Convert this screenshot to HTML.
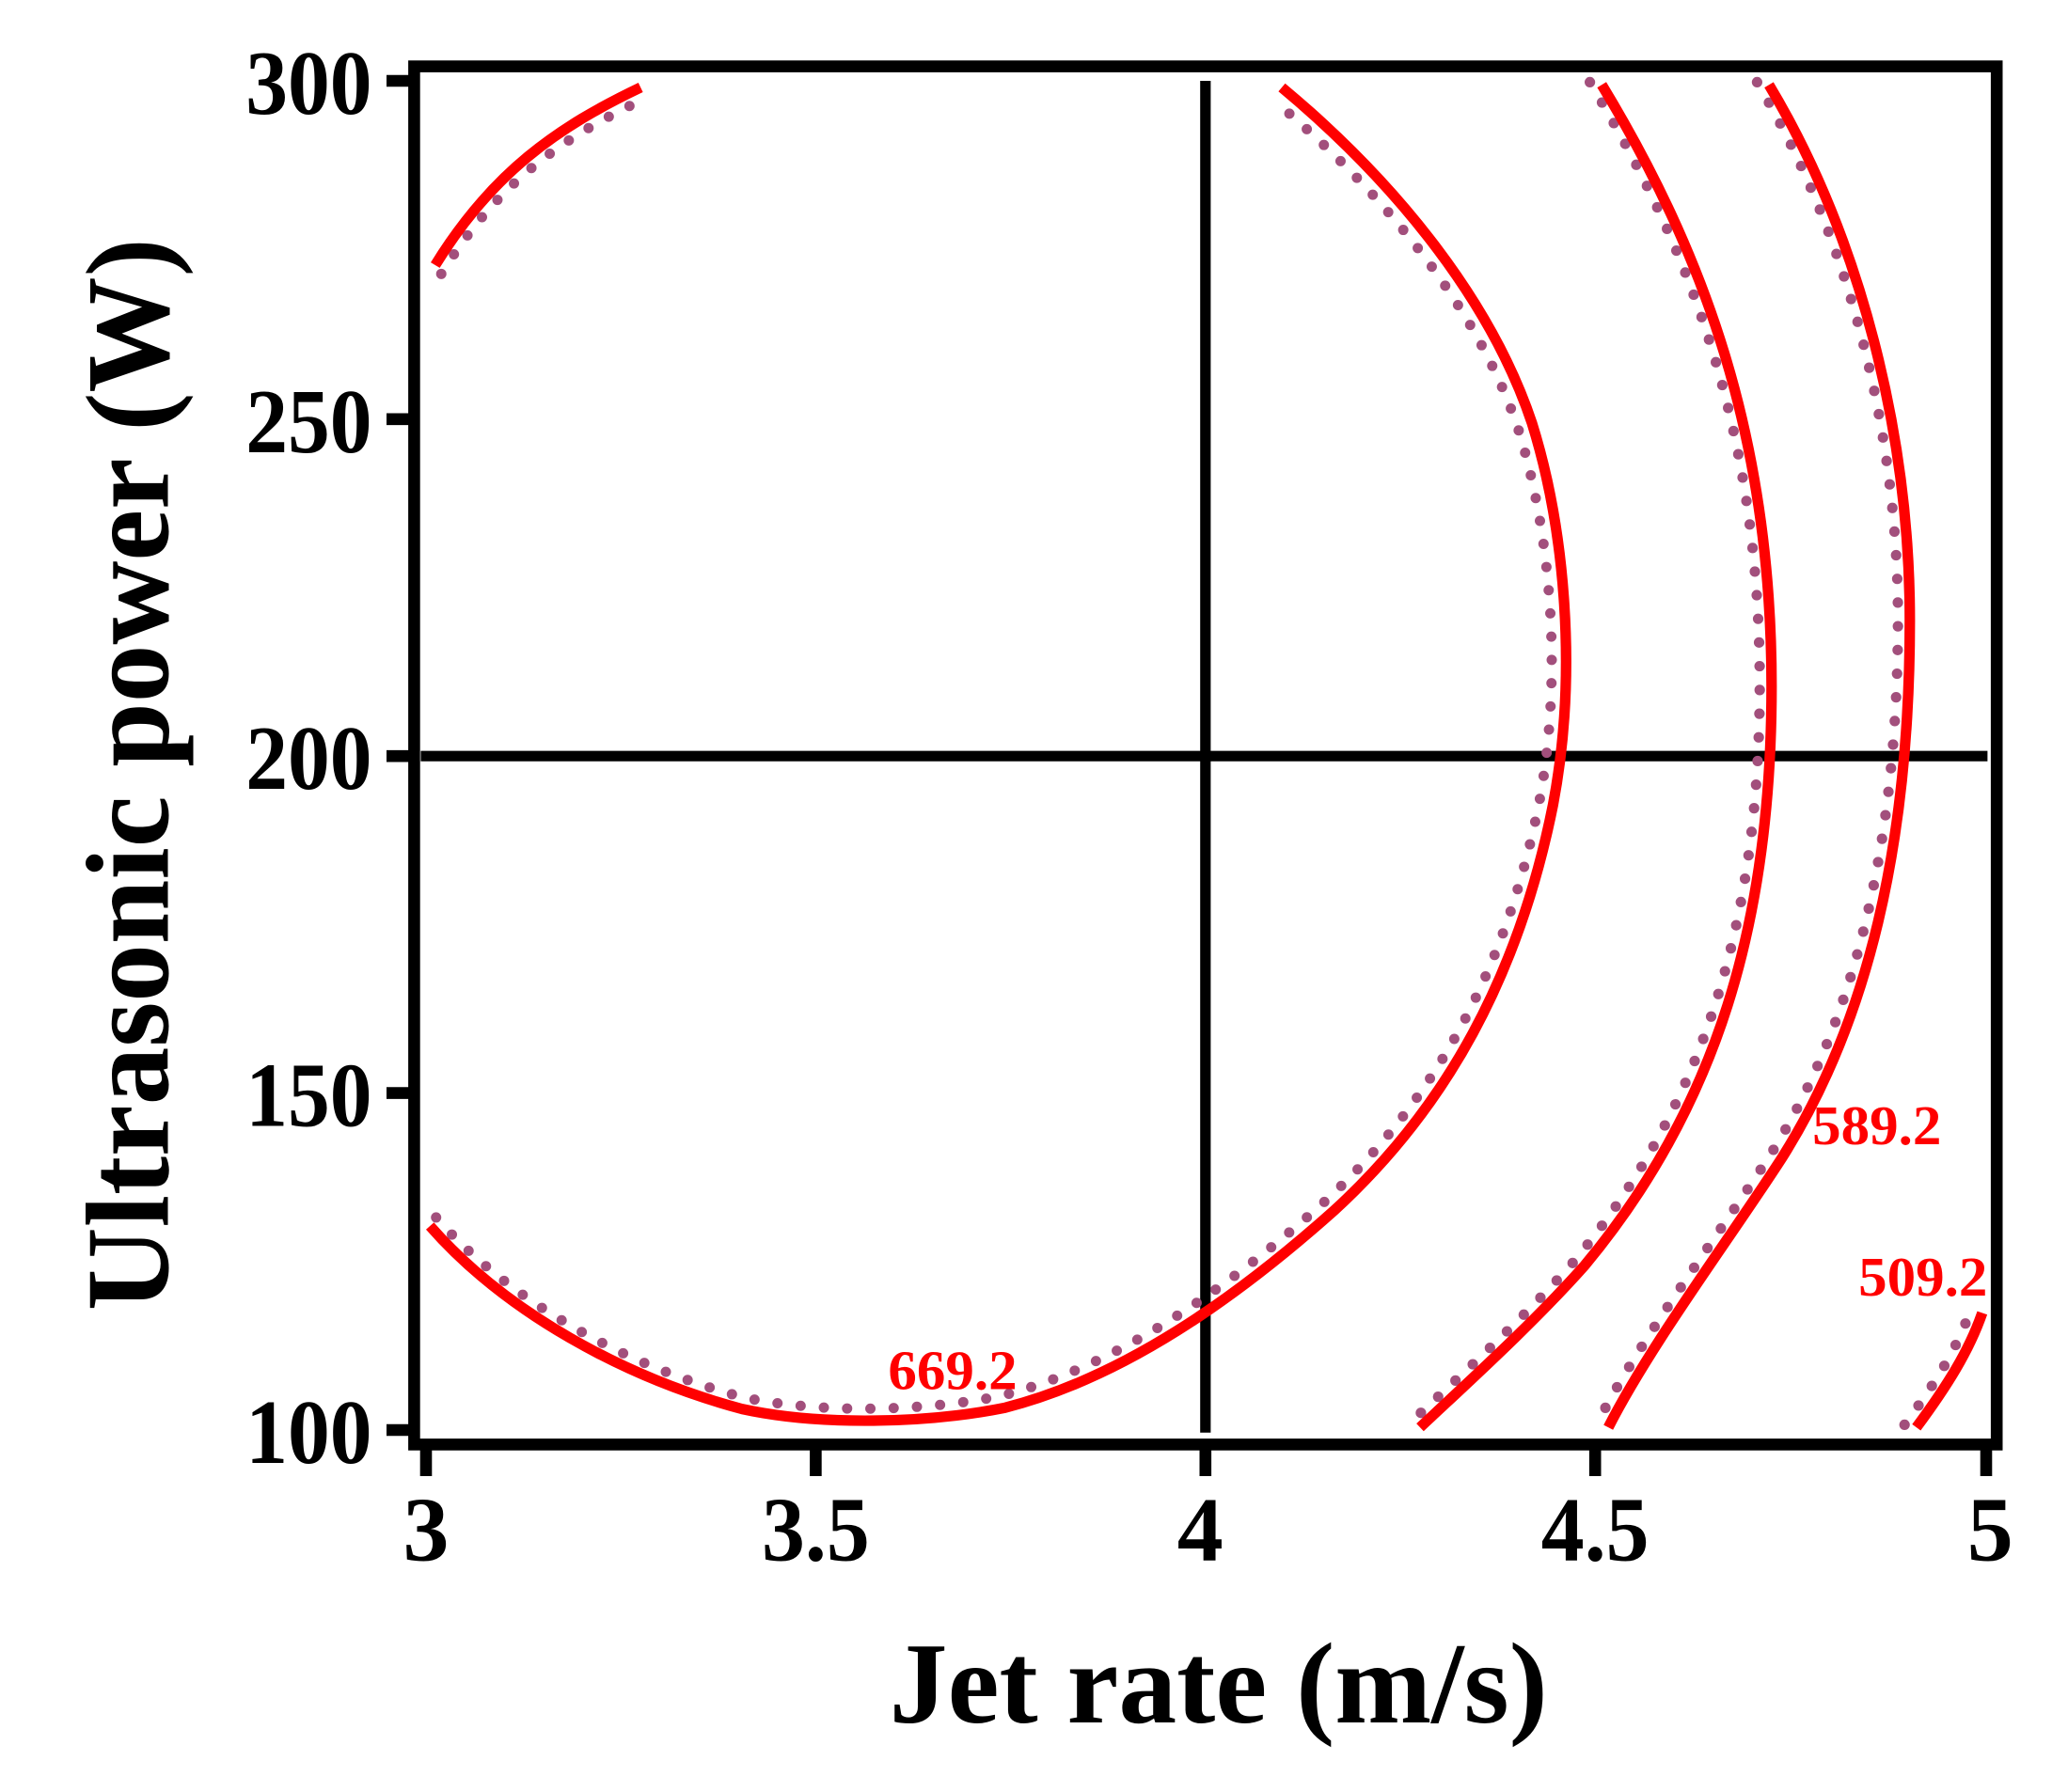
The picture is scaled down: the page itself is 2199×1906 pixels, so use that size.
<!DOCTYPE html>
<html><head><meta charset="utf-8"><style>
html,body{margin:0;padding:0;background:#fff;}
svg{display:block;}
</style></head><body>
<svg width="2199" height="1906" viewBox="0 0 2199 1906" xmlns="http://www.w3.org/2000/svg">
<rect width="2199" height="1906" fill="#fff"/>
<g transform="matrix(1.4 0 0 1.4 5 2)">
  <line x1="316" y1="573" x2="1506" y2="573" stroke="#000" stroke-width="8"/>
  <line x1="912" y1="60" x2="912" y2="1087" stroke="#000" stroke-width="8"/>

  <g fill="none" stroke="#a24f7c" stroke-width="8" stroke-linecap="round" stroke-dasharray="0 18">
    <g transform="translate(800 570) scale(0.982) translate(-800 -570) translate(-4 0)">
      <path d="M323,930 C380,995 470,1045 560,1069 C620,1082 700,1080 760,1068 C850,1045 935,985 1010,918 C1095,840 1150,740 1176,610 C1195,510 1185,400 1160,320 C1130,230 1060,140 970,65"/>
      <path d="M327,200 C370,130 420,95 483,65"/>
    </g>
    <g transform="translate(-9 -2)">
      <path d="M1213,63 C1290,190 1342,330 1342,520 C1342,700 1300,840 1200,960 C1160,1005 1110,1050 1075,1083"/>
      <path d="M1340,63 C1410,180 1447,330 1447,470 C1447,640 1415,775 1350,878 C1310,940 1250,1020 1218,1083"/>
      <path d="M1452,1083 C1475,1052 1492,1025 1502,996"/>
    </g>
  </g>

  <g fill="none" stroke="#ff0000" stroke-width="8" stroke-linecap="butt">
    <path d="M323,930 C380,995 470,1045 560,1069 C620,1082 700,1080 760,1068 C850,1045 935,985 1010,918 C1095,840 1150,740 1176,610 C1195,510 1185,400 1160,320 C1130,230 1060,140 970,65"/>
    <path d="M327,200 C370,130 420,95 483,65"/>
    <path d="M1213,63 C1290,190 1342,330 1342,520 C1342,700 1300,840 1200,960 C1160,1005 1110,1050 1075,1083"/>
    <path d="M1340,63 C1410,180 1447,330 1447,470 C1447,640 1415,775 1350,878 C1310,940 1250,1020 1218,1083"/>
    <path d="M1452,1083 C1475,1052 1492,1025 1502,996"/>
  </g>

  <g font-family="Liberation Serif, serif" font-weight="bold" font-size="42" fill="#ff0000" text-anchor="middle">
    <text x="720" y="1054" textLength="98" lengthAdjust="spacingAndGlyphs">669.2</text>
    <text x="1422" y="868" textLength="98" lengthAdjust="spacingAndGlyphs">589.2</text>
    <text x="1457" y="983" textLength="98" lengthAdjust="spacingAndGlyphs">509.2</text>
  </g>

  <rect x="311" y="49" width="1202" height="1047" fill="none" stroke="#000" stroke-width="9"/>
  <g stroke="#000" stroke-width="9">
    <line x1="290" y1="60" x2="311" y2="60"/>
    <line x1="290" y1="317" x2="311" y2="317"/>
    <line x1="290" y1="573" x2="311" y2="573"/>
    <line x1="290" y1="829" x2="311" y2="829"/>
    <line x1="290" y1="1085" x2="311" y2="1085"/>
    <line x1="320" y1="1096" x2="320" y2="1120"/>
    <line x1="616" y1="1096" x2="616" y2="1120"/>
    <line x1="912" y1="1096" x2="912" y2="1120"/>
    <line x1="1208" y1="1096" x2="1208" y2="1120"/>
    <line x1="1505" y1="1096" x2="1505" y2="1120"/>
  </g>
  <g font-family="Liberation Serif, serif" font-weight="bold" font-size="70" fill="#000">
    <g text-anchor="end">
      <text x="279" y="85" textLength="96" lengthAdjust="spacingAndGlyphs">300</text>
      <text x="279" y="342" textLength="96" lengthAdjust="spacingAndGlyphs">250</text>
      <text x="279" y="598" textLength="96" lengthAdjust="spacingAndGlyphs">200</text>
      <text x="279" y="854" textLength="96" lengthAdjust="spacingAndGlyphs">150</text>
      <text x="279" y="1110" textLength="96" lengthAdjust="spacingAndGlyphs">100</text>
    </g>
    <g text-anchor="middle">
      <text x="320" y="1184">3</text>
      <text x="616" y="1184" textLength="82" lengthAdjust="spacingAndGlyphs">3.5</text>
      <text x="908" y="1184">4</text>
      <text x="1208" y="1184" textLength="82" lengthAdjust="spacingAndGlyphs">4.5</text>
      <text x="1508" y="1184">5</text>
    </g>
  </g>
  <g font-family="Liberation Serif, serif" font-weight="bold" fill="#000">
    <text x="922" y="1307" font-size="88" text-anchor="middle" textLength="500" lengthAdjust="spacingAndGlyphs">Jet rate (m/s)</text>
    <text transform="translate(124 587) rotate(-90)" x="0" y="0" font-size="90" text-anchor="middle" textLength="815" lengthAdjust="spacingAndGlyphs">Ultrasonic power (W)</text>
  </g>
</g>
</svg>
</body></html>
